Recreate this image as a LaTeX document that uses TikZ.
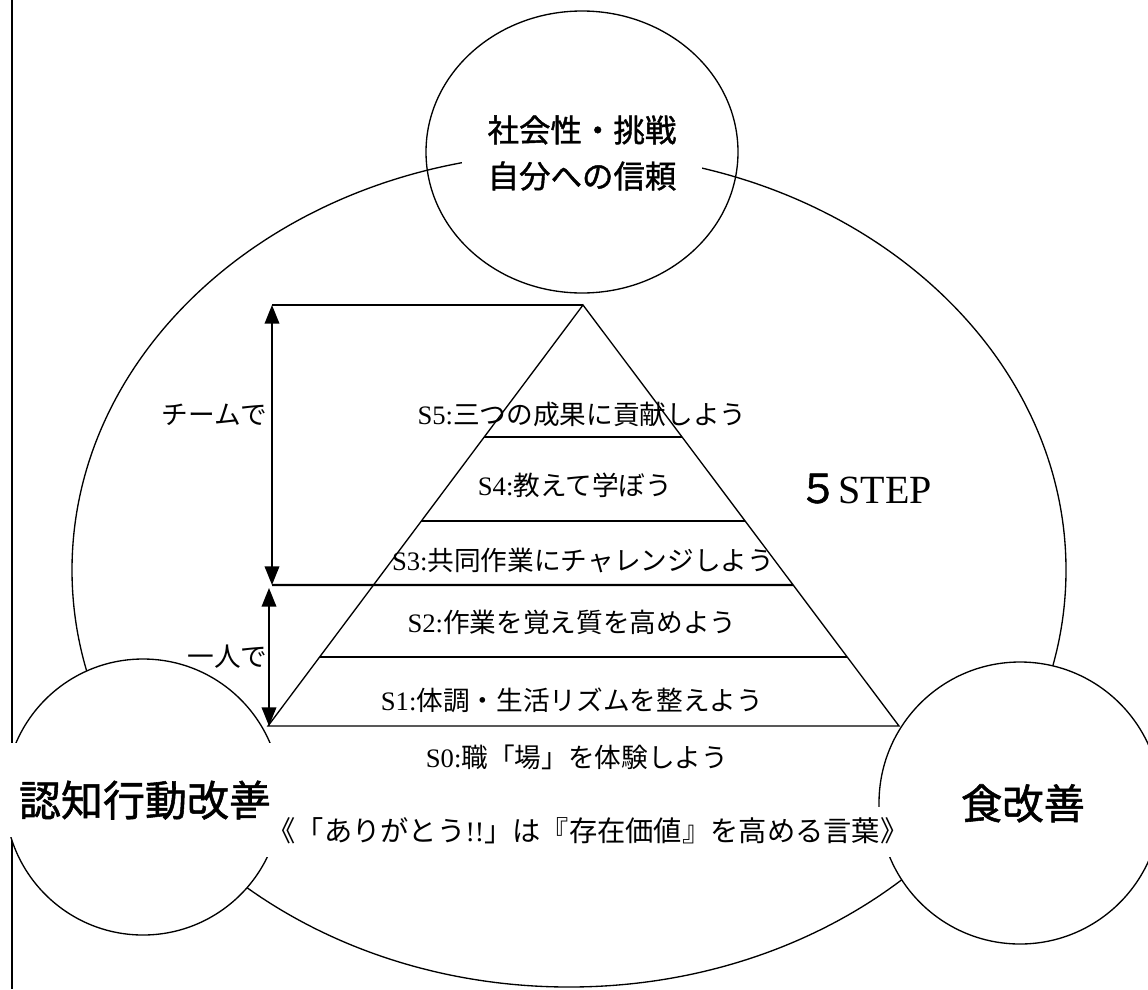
\documentclass[tikz,border=0pt]{standalone}
\usepackage{fontspec}
\setmainfont{Liberation Serif}
\newfontfamily\jp{Noto Sans CJK JP}
\newfontfamily\jpb[FakeBold=1.3]{Noto Sans CJK JP}
\usetikzlibrary{shapes.geometric,arrows.meta,calc}
\begin{document}
\begin{tikzpicture}[x=0.75pt,y=-0.75pt,line width=1pt,
  circ/.style={draw, ellipse, inner sep=0pt, line width=1pt},
  heavy/.style={line width=1.6pt},
  dbl/.style={{Triangle[length=14pt,width=11pt]}-{Triangle[length=14pt,width=11pt]}, line width=1.1pt},
  pyr/.style={font=\fontsize{20}{24}\selectfont, anchor=base, inner sep=0pt},
  bigjp/.style={font=\jpb\fontsize{31.5}{36}\selectfont, anchor=base, inner sep=0pt}]
\useasboundingbox (0,0) rectangle (1148,989);
% left frame line
\coordinate (ltop) at (12,0);
\coordinate (lbot) at (12,989);
\draw[heavy] (ltop) -- (lbot);
% big ellipse and circles
\node[circ, minimum width=745.5pt, minimum height=625.5pt] (big) at (569,570) {};
\node[circ, fill=white, minimum size=207pt] (cog) at (143,797) {};
\node[circ, fill=white, minimum size=211.5pt] (food) at (1020,803) {};
\node[circ, minimum width=234pt, minimum height=211.5pt] (soc) at (582,152) {};
% circle texts
\node[fill=white, align=center, inner xsep=19.5pt, inner ysep=3pt,
  font=\jpb\fontsize{23.6}{34.5}\selectfont] (socT) at (582,153) {社会性・挑戦\\自分への信頼};
\node[bigjp, fill=white, minimum width=217.5pt, text height=54.75pt, text depth=15.75pt] (cogT) at (145,816) {認知行動改善};
\node[bigjp, font=\jpb\fontsize{31}{36}\selectfont] (foodT) at (1023,819) {食改善};
\node[fill=white, anchor=base, inner ysep=0pt, inner xsep=9pt, text height=25.9pt, text depth=11.6pt,
  font=\jp\fontsize{21.2}{24}\selectfont] (thanks) at (588,841.5) {《「ありがとう{\rmfamily !!}」は『存在価値』を高める言葉》};
% pyramid
\coordinate (apex) at (583,305);
\coordinate (bl) at (268,726);
\coordinate (br) at (899,726);
\draw (bl) -- (apex) -- (br) -- cycle;
\draw ($(apex)!0.3135!(bl)$) -- ($(apex)!0.3135!(br)$);
\draw ($(apex)!0.5131!(bl)$) -- ($(apex)!0.5131!(br)$);
\draw ($(apex)!0.8361!(bl)$) -- ($(apex)!0.8361!(br)$);
% arrows
\coordinate (a1t) at (272,305);
\coordinate (a1b) at (272,585);
\coordinate (a2t) at (269,588);
\coordinate (a2b) at (269,726);
\draw[heavy] (a1t) -- (apex);
\draw[heavy] (a1b) -- ($(apex)!0.6651!(br)$);
\draw[dbl] (a1t) -- (a1b);
\draw[dbl] (a2t) -- (a2b);
% pyramid texts
\node[pyr] (s5) at (582,424) {S5:{\jp 三つの成果に貢献しよう}};
\node[pyr] (s4) at (575,495) {S4:{\jp 教えて学ぼう}};
\node[pyr] (s3) at (583,570) {S3:{\jp 共同作業にチャレンジしよう}};
\node[pyr] (s2) at (572,632) {S2:{\jp 作業を覚え質を高めよう}};
\node[pyr] (s1) at (572,710) {S1:{\jp 体調・生活リズムを整えよう}};
\node[pyr] (s0) at (577,767) {S0:{\jp 職「場」を体験しよう}};
\node[pyr, anchor=base east] (team) at (268,424) {\jp チームで};
\node[pyr, anchor=base east] (alone) at (268,666) {\jp 一人で};
\node[anchor=base, inner sep=0pt, font=\fontsize{30}{36}\selectfont] (step) at (865,503) {{\jpb ５}STEP};
\end{tikzpicture}
\end{document}
